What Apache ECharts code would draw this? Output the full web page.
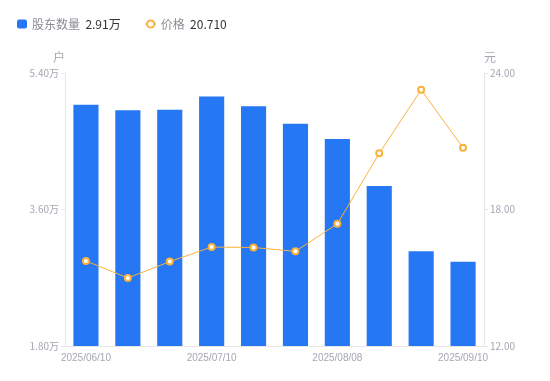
<!DOCTYPE html>
<html><head><meta charset="utf-8">
<script src="https://cdn.jsdelivr.net/npm/echarts@6/dist/echarts.min.js"></script>
<style>html,body{margin:0;padding:0;background:#fff}#c{width:550px;height:381px}</style>
</head><body><div id="c"></div>
<script>
const categories = ['2025/06/10','2025/06/20','2025/06/30','2025/07/10','2025/07/20','2025/07/31','2025/08/08','2025/08/20','2025/08/29','2025/09/10'];
const holders = [49800, 49100, 49150, 50900, 49600, 47300, 45300, 39100, 30500, 29100];
const prices = [15.74, 14.99, 15.71, 16.35, 16.33, 16.16, 17.37, 20.47, 23.26, 20.71];
const leftTicks = [18000, 36000, 54000];
const rightTicks = [12, 18, 24];

const chart = echarts.init(document.getElementById('c'), null, {renderer:'canvas'});
const lastHolder = (holders[holders.length-1]/10000).toFixed(2) + '万';
const lastPrice = prices[prices.length-1].toFixed(3);
const axisLabelColor = '#a4a7b3';
chart.setOption({
  animation:false,
  textStyle:{fontFamily:'"Noto Sans CJK SC","Noto Sans",sans-serif'},
  legend:{
    left:12, top:13, itemGap:24, itemWidth:10, itemHeight:9,
    data:[
      {name:'股东数量', icon:'roundRect'},
      {name:'价格'}
    ],
    formatter:function(n){
      return '{a|'+n+'}  {b|'+(n==='股东数量'?lastHolder:lastPrice)+'}';
    },
    textStyle:{rich:{
      a:{color:'#8c8c96', fontSize:12, fontFamily:'"Noto Sans CJK SC",sans-serif'},
      b:{color:'#333', fontSize:12, fontFamily:'"Noto Sans CJK SC",sans-serif'}
    }}
  },
  grid:{left:65, right:66, top:73, bottom:35},
  xAxis:{
    type:'category', data:categories,
    axisLine:{lineStyle:{color:'#e6e6e6'}},
    axisTick:{show:false},
    axisLabel:{color:axisLabelColor, fontSize:10, interval:2, margin:7, fontFamily:'"Liberation Sans",Arial,sans-serif'}
  },
  yAxis:[
    {type:'value', min:leftTicks[0], max:leftTicks[2], interval:leftTicks[1]-leftTicks[0],
     name:'户', nameGap:10, nameTextStyle:{color:'#a4a7b3', fontSize:12, align:'right'},
     axisLine:{show:true, lineStyle:{color:'#e6e6e6'}},
     axisTick:{show:true, length:4, lineStyle:{color:'#e6e6e6'}},
     splitLine:{show:false},
     axisLabel:{color:axisLabelColor, fontSize:10, margin:6, formatter:function(v){return (v/10000).toFixed(2)+'万';}}
    },
    {type:'value', min:rightTicks[0], max:rightTicks[2], interval:rightTicks[1]-rightTicks[0],
     name:'元', nameGap:10, nameTextStyle:{color:'#a4a7b3', fontSize:12, align:'left'},
     axisLine:{show:true, lineStyle:{color:'#e6e6e6'}},
     axisTick:{show:true, length:4, lineStyle:{color:'#e6e6e6'}},
     splitLine:{show:false},
     axisLabel:{color:axisLabelColor, fontSize:10, margin:6, formatter:function(v){return v.toFixed(2);}}
    }
  ],
  series:[
    {name:'股东数量', type:'bar', data:holders, barWidth:'60%', yAxisIndex:0,
     itemStyle:{color:'#2677f4'}},
    {name:'价格', type:'line', data:prices, yAxisIndex:1, symbol:'emptyCircle', symbolSize:6,
     lineStyle:{color:'#f9b23c', width:1},
     itemStyle:{color:'#f9b23c', borderWidth:2}}
  ]
});
</script></body></html>
